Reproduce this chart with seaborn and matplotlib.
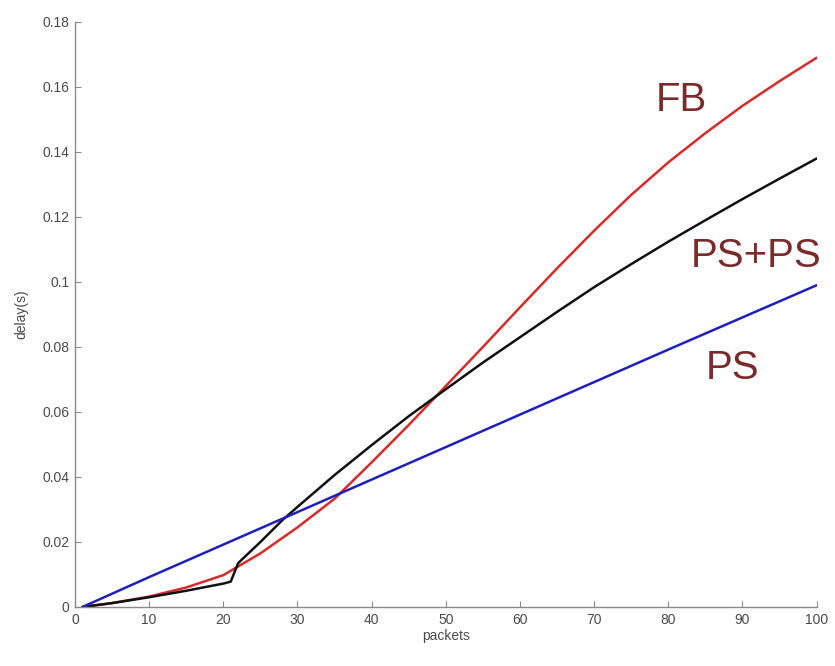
import numpy as np
import pandas as pd
import matplotlib
matplotlib.use("Agg")
import matplotlib.pyplot as plt
import seaborn as sns

# Data
ps_x = [1, 10, 20, 30, 40, 50, 60, 70, 80, 90, 100]
ps_y = [0.0, 0.0092, 0.0192, 0.0292, 0.0392, 0.0492, 0.0592, 0.0692, 0.0792, 0.0891, 0.0990]

fb_x = [1, 5, 10, 15, 20, 25, 30, 35, 40, 45, 50, 55, 60, 65, 70, 75, 80, 85, 90, 95, 100]
fb_y = [0.0, 0.0012, 0.0032, 0.0060, 0.0098, 0.0165, 0.0245, 0.0333, 0.0445, 0.0560, 0.0680,
        0.0800, 0.0922, 0.1042, 0.1158, 0.1268, 0.1368, 0.1458, 0.1542, 0.1618, 0.1690]

pp_x = [1, 5, 10, 15, 20, 21, 22, 25, 28, 30, 35, 40, 45, 50, 55, 60, 65, 70, 75, 80, 85, 90, 95, 100]
pp_y = [0.0, 0.0012, 0.0030, 0.0050, 0.0072, 0.0078, 0.0135, 0.0200, 0.0268, 0.0308, 0.0406,
        0.0498, 0.0587, 0.0670, 0.0752, 0.0830, 0.0908, 0.0984, 0.1055, 0.1124, 0.1190, 0.1255,
        0.1318, 0.1380]

series_names = ["FB", "PS+PS", "PS"]
series_colors = {"FB": "#d92a2a", "PS+PS": "#111111", "PS": "#1f1fbf"}
label_color = "#7a2b2b"

df = pd.concat([
    pd.DataFrame({"packets": fb_x, "delay": fb_y, "series": "FB"}),
    pd.DataFrame({"packets": pp_x, "delay": pp_y, "series": "PS+PS"}),
    pd.DataFrame({"packets": ps_x, "delay": ps_y, "series": "PS"}),
], ignore_index=True)

sns.set_theme(style="white")
plt.rcParams['font.family'] = ['Liberation Sans', 'DejaVu Sans']

fig = plt.figure(figsize=(8.35, 6.66), dpi=100)
ax = fig.add_axes([0.0898, 0.0886, 0.8882, 0.8784])

sns.lineplot(data=df, x="packets", y="delay", hue="series", hue_order=series_names,
             palette=series_colors, linewidth=1.8, legend=False, ax=ax, sort=False,
             estimator=None)

ax.set_xlim(0, 100)
ax.set_ylim(0, 0.18)
ax.set_xticks(np.arange(0, 101, 10))
ax.set_yticks(np.arange(0, 0.181, 0.02))
ax.set_yticklabels(["0", "0.02", "0.04", "0.06", "0.08", "0.1", "0.12", "0.14", "0.16", "0.18"])
ax.set_xticklabels([str(v) for v in range(0, 101, 10)])

for s in ["top", "right"]:
    ax.spines[s].set_visible(False)
for s in ["left", "bottom"]:
    ax.spines[s].set_color("#8a8a8a")
    ax.spines[s].set_linewidth(1.0)

ax.tick_params(axis="both", direction="in", length=4, width=0.8, color="#8a8a8a",
               labelsize=10, labelcolor="#4a4a4a", left=True, bottom=True, pad=4)

ax.set_xlabel("packets", fontsize=10, color="#4a4a4a", labelpad=2)
ax.set_ylabel("delay(s)", fontsize=10, color="#4a4a4a", labelpad=10)

ax.text(81.7, 0.1560, "FB", fontsize=29, color=label_color, ha="center", va="center")
ax.text(91.8, 0.1080, "PS+PS", fontsize=29, color=label_color, ha="center", va="center")
ax.text(88.7, 0.0735, "PS", fontsize=29, color=label_color, ha="center", va="center")

fig.savefig("out.png", dpi=100)
